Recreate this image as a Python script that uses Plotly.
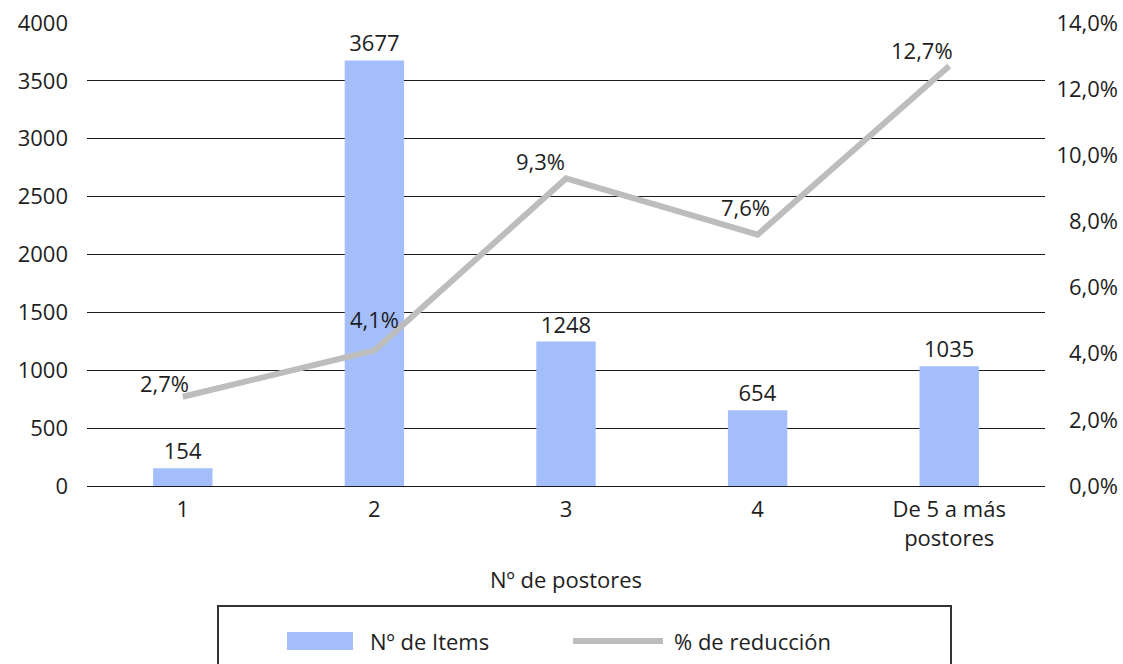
import plotly.graph_objects as go

# Data
categories = ["1", "2", "3", "4", "De 5 a más<br>postores"]
items = [154, 3677, 1248, 654, 1035]
reduccion = [2.7, 4.1, 9.3, 7.6, 12.7]
left_ticks = [0, 500, 1000, 1500, 2000, 2500, 3000, 3500, 4000]
right_ticks = [0, 2, 4, 6, 8, 10, 12, 14]

# Label nudges (px) for the percentage labels
label_dx = [-18, 0, -26, -12, -27]
label_dy = [14, 31, 17, 28, 16]

FONT = "Open Sans"
TXT = "#1e1e1e"
BAR = "#a4bdfb"
LINE = "#bdbdbd"
GRID = "#1a1a1a"
FS = 22

W, H = 1123, 664
ml, mr, mt, mb = 87, 5, 23, 178
plot_w = W - ml - mr
plot_h = H - mt - mb
xdom_end = 958 / plot_w


def pct(v):
    return f"{v:.1f}".replace(".", ",") + "%"


fig = go.Figure()

fig.add_trace(go.Bar(
    x=categories, y=items, name="Nº de Items",
    marker=dict(color=BAR, line=dict(width=0)),
    width=0.31,
    text=[str(v) for v in items], textposition="outside",
    textfont=dict(family=FONT, size=FS, color=TXT),
    cliponaxis=False, showlegend=False,
))

fig.add_trace(go.Scatter(
    x=categories, y=reduccion, name="% de reducción", yaxis="y2",
    mode="lines", line=dict(color=LINE, width=6),
    showlegend=False, cliponaxis=False,
))

for i, (v, dx, dy) in enumerate(zip(reduccion, label_dx, label_dy)):
    fig.add_annotation(
        x=i, y=v, xref="x", yref="y2", text=pct(v), showarrow=False,
        xshift=dx, yshift=dy, font=dict(family=FONT, size=FS, color=TXT),
    )

# Legend box drawn in paper coordinates below the axis title
def px_x(px):
    return (px - ml) / plot_w

def px_y(py):
    return (H - mb - py) / plot_h

fig.add_shape(type="rect", xref="paper", yref="paper",
              x0=px_x(218), x1=px_x(951), y0=px_y(690), y1=px_y(606),
              line=dict(color="#333333", width=2), fillcolor="rgba(0,0,0,0)")
fig.add_shape(type="rect", xref="paper", yref="paper",
              x0=px_x(287), x1=px_x(353), y0=px_y(650), y1=px_y(632),
              line=dict(width=0), fillcolor=BAR)
fig.add_shape(type="line", xref="paper", yref="paper",
              x0=px_x(573), x1=px_x(663), y0=px_y(641), y1=px_y(641),
              line=dict(color=LINE, width=6))
fig.add_annotation(xref="paper", yref="paper", x=px_x(368), y=px_y(641),
                   text="Nº de Items", showarrow=False, xanchor="left",
                   yanchor="middle", font=dict(family=FONT, size=FS, color=TXT))
fig.add_annotation(xref="paper", yref="paper", x=px_x(672), y=px_y(641),
                   text="% de reducción", showarrow=False, xanchor="left",
                   yanchor="middle", font=dict(family=FONT, size=FS, color=TXT))

fig.update_layout(
    width=W, height=H,
    margin=dict(l=ml, r=mr, t=mt, b=mb),
    paper_bgcolor="white", plot_bgcolor="white",
    separators=",.",
    font=dict(family=FONT, size=FS, color=TXT),
    xaxis=dict(
        domain=[0, xdom_end], range=[-0.5, 4.5],
        showgrid=False, showline=False, zeroline=False, ticks="",
        ticklabelstandoff=8,
        tickfont=dict(family=FONT, size=FS, color=TXT),
        title=dict(text="Nº de postores", standoff=22,
                   font=dict(family=FONT, size=FS, color=TXT)),
    ),
    yaxis=dict(
        range=[0, 4000], tickvals=left_ticks, tickformat="d",
        showgrid=True, gridcolor=GRID, gridwidth=1.3,
        zeroline=True, zerolinecolor=GRID, zerolinewidth=1.3,
        showline=False, ticks="", ticklabelstandoff=18,
        tickfont=dict(family=FONT, size=FS, color=TXT),
    ),
    yaxis2=dict(
        range=[0, 14], tickmode="array", tickvals=right_ticks,
        ticktext=[pct(v) for v in right_ticks],
        overlaying="y", side="left", anchor="free", position=1,
        showgrid=False, zeroline=False, showline=False, ticks="",
        tickfont=dict(family=FONT, size=FS, color=TXT),
    ),
)

fig.write_html("out.html")
